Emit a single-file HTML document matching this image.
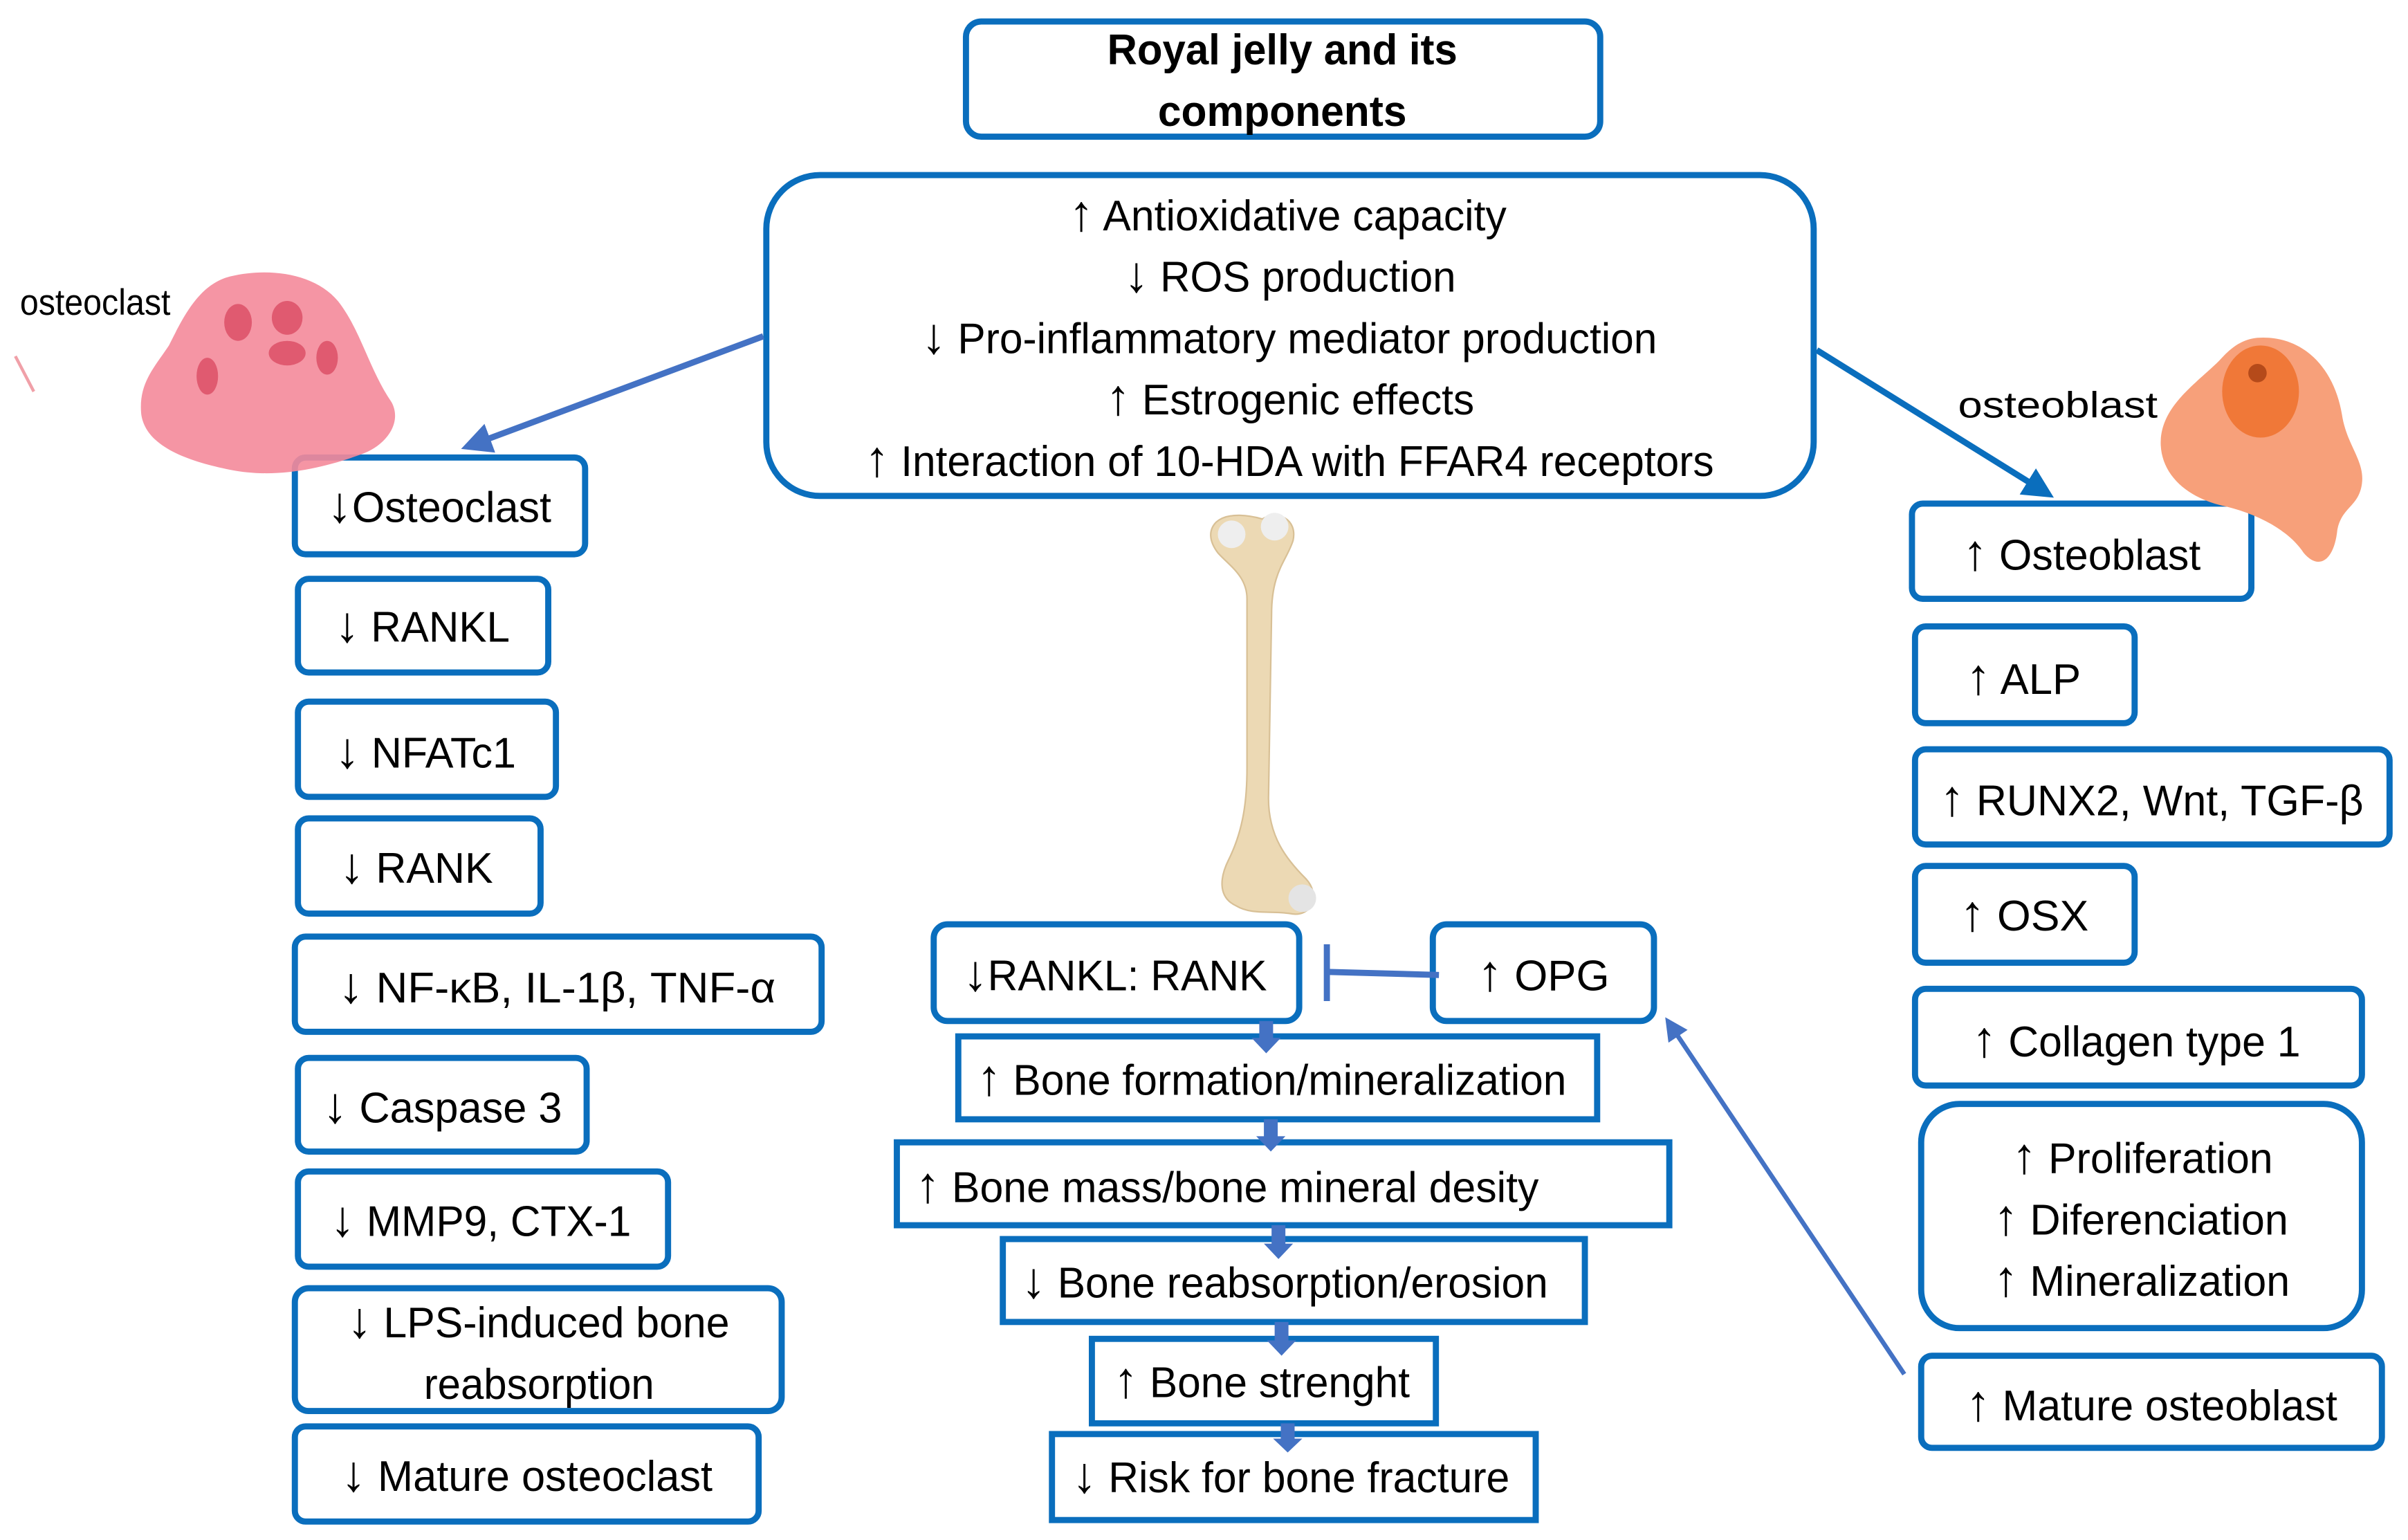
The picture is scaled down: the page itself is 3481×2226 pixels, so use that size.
<!DOCTYPE html>
<html><head><meta charset="utf-8"><style>
html,body{margin:0;padding:0;background:#fff;width:3481px;height:2226px;overflow:hidden}
svg{display:block}
text{font-family:"Liberation Sans",sans-serif;fill:#000}
.a{font-size:33px}
</style></head><body>
<svg width="3481" height="2226" viewBox="0 0 1568 1003" preserveAspectRatio="none" xmlns="http://www.w3.org/2000/svg">
<defs>
<marker id="ah" markerWidth="5" markerHeight="5" refX="4" refY="2.5" orient="auto" markerUnits="strokeWidth"><path d="M0,0 L5,2.5 L0,5 z" fill="#4472c4"/></marker>
<marker id="ah2" markerWidth="5" markerHeight="5" refX="4" refY="2.5" orient="auto" markerUnits="strokeWidth"><path d="M0,0 L5,2.5 L0,5 z" fill="#0a6ebd"/></marker>
</defs>
<g fill="none" stroke="#0a6ebd" stroke-width="4">
<rect x="629" y="14" width="413" height="75" rx="10"/>
<rect x="499" y="114" width="682" height="209" rx="35"/>
<rect x="192" y="298" width="189" height="63" rx="7"/>
<rect x="194" y="377" width="163" height="61" rx="7"/>
<rect x="194" y="457" width="168" height="62" rx="7"/>
<rect x="194" y="533" width="158" height="62" rx="7"/>
<rect x="192" y="610" width="343" height="62" rx="7"/>
<rect x="194" y="689" width="188" height="61" rx="7"/>
<rect x="194" y="763" width="241" height="62" rx="7"/>
<rect x="192" y="839" width="317" height="80" rx="9"/>
<rect x="192" y="929" width="302" height="62" rx="7"/>
<rect x="608" y="602" width="238" height="63" rx="9"/>
<rect x="933" y="602" width="144" height="63" rx="9"/>
<rect x="624" y="675" width="416" height="54"/>
<rect x="584" y="744" width="503" height="54"/>
<rect x="653" y="807" width="379" height="54"/>
<rect x="711" y="872" width="224" height="55"/>
<rect x="685" y="934" width="315" height="56"/>
<rect x="1245" y="328" width="221" height="62" rx="7"/>
<rect x="1247" y="408" width="143" height="63" rx="7"/>
<rect x="1247" y="488" width="309" height="62" rx="7"/>
<rect x="1247" y="564" width="143" height="63" rx="7"/>
<rect x="1247" y="644" width="291" height="63" rx="7"/>
<rect x="1251" y="719" width="287" height="146" rx="25"/>
<rect x="1251" y="883" width="300" height="60" rx="7"/>
</g>
<path d="M150,180 C175,174 205,178 220,196 C235,215 240,240 255,262 C262,275 252,290 235,296 C210,305 180,312 150,306 C120,300 95,290 92,270 C90,250 100,240 110,225 C120,205 130,185 150,180 z" fill="#f48a9a" opacity="0.9"/>
<g fill="#e05a70"><ellipse cx="155" cy="210" rx="9" ry="12"/><ellipse cx="187" cy="207" rx="10" ry="11"/><ellipse cx="135" cy="245" rx="7" ry="12"/><ellipse cx="187" cy="230" rx="12" ry="8"/><ellipse cx="213" cy="233" rx="7" ry="11"/></g>
<path d="M10,232 L22,255" stroke="#f0a0a8" stroke-width="2"/>
<path d="M1470,220 C1500,218 1520,240 1525,270 C1528,290 1540,300 1538,315 C1536,330 1525,330 1522,345 C1520,365 1510,372 1500,360 C1490,345 1470,335 1450,330 C1425,325 1408,310 1407,290 C1406,265 1430,250 1445,235 C1453,226 1460,221 1470,220 z" fill="#f7a07a"/>
<ellipse cx="1472" cy="255" rx="25" ry="30" fill="#f07838"/>
<ellipse cx="1470" cy="243" rx="6" ry="6" fill="#b54a1a"/>
<path d="M792,340 C800,333 815,336 822,338 C832,332 845,338 842,352 C838,365 828,372 828,400 L826,520 C826,545 838,560 850,572 C860,582 855,598 840,595 C828,593 815,596 805,590 C792,584 795,570 800,560 C810,540 812,520 812,500 L812,390 C812,375 800,368 793,360 C787,352 787,345 792,340 z" fill="#ecd9b4" stroke="#d8c096" stroke-width="1"/>
<circle cx="802" cy="348" r="9" fill="#eee"/><circle cx="830" cy="343" r="9" fill="#eee"/><circle cx="848" cy="585" r="9" fill="#e4e4e4"/>
<g stroke="#4472c4" stroke-width="4" fill="none">
<line x1="497" y1="219" x2="304" y2="291" marker-end="url(#ah)"/>
<line x1="1240" y1="895" x2="1086" y2="665" stroke-width="3" marker-end="url(#ah)"/>
<line x1="937" y1="635" x2="864" y2="633"/>
<line x1="864" y1="615" x2="864" y2="652"/>
</g>
<line x1="1183" y1="228" x2="1334" y2="322" stroke="#0a6ebd" stroke-width="4" marker-end="url(#ah2)"/>
<g fill="#4472c4">
<path d="M820,665 h9 v11 h5 l-9.5,10 l-9.5,-10 h5z"/>
<path d="M823,729 h9 v11 h5 l-9.5,10 l-9.5,-10 h5z"/>
<path d="M828,798 h9 v12 h5 l-9.5,10 l-9.5,-10 h5z"/>
<path d="M830,861 h9 v12 h5 l-9.5,10 l-9.5,-10 h5z"/>
<path d="M834,927 h9 v10 h5 l-9.5,9 l-9.5,-9 h5z"/>
</g>
<g font-size="28">
<text x="835" y="42" text-anchor="middle" font-weight="bold" textLength="228" lengthAdjust="spacingAndGlyphs">Royal jelly and its</text>
<text x="835" y="82" text-anchor="middle" font-weight="bold" textLength="162" lengthAdjust="spacingAndGlyphs">components</text>
<text x="696" y="150" textLength="285" lengthAdjust="spacingAndGlyphs"><tspan class="a">↑</tspan> Antioxidative capacity</text>
<text x="732" y="190" textLength="216" lengthAdjust="spacingAndGlyphs"><tspan class="a">↓</tspan> ROS production</text>
<text x="600" y="230" textLength="479" lengthAdjust="spacingAndGlyphs"><tspan class="a">↓</tspan> Pro-inflammatory mediator production</text>
<text x="720" y="270" textLength="240" lengthAdjust="spacingAndGlyphs"><tspan class="a">↑</tspan> Estrogenic effects</text>
<text x="563" y="310" textLength="553" lengthAdjust="spacingAndGlyphs"><tspan class="a">↑</tspan> Interaction of 10-HDA with FFAR4 receptors</text>
<text x="213" y="340" textLength="146" lengthAdjust="spacingAndGlyphs"><tspan class="a">↓</tspan>Osteoclast</text>
<text x="218" y="418" textLength="114" lengthAdjust="spacingAndGlyphs"><tspan class="a">↓</tspan> RANKL</text>
<text x="218" y="500" textLength="118" lengthAdjust="spacingAndGlyphs"><tspan class="a">↓</tspan> NFATc1</text>
<text x="221" y="575" textLength="100" lengthAdjust="spacingAndGlyphs"><tspan class="a">↓</tspan> RANK</text>
<text x="220" y="653" textLength="285" lengthAdjust="spacingAndGlyphs"><tspan class="a">↓</tspan> NF-κB, IL-1β, TNF-α</text>
<text x="210" y="731" textLength="156" lengthAdjust="spacingAndGlyphs"><tspan class="a">↓</tspan> Caspase 3</text>
<text x="215" y="805" textLength="196" lengthAdjust="spacingAndGlyphs"><tspan class="a">↓</tspan> MMP9, CTX-1</text>
<text x="226" y="871" textLength="249" lengthAdjust="spacingAndGlyphs"><tspan class="a">↓</tspan> LPS-induced bone</text>
<text x="276" y="911" textLength="150" lengthAdjust="spacingAndGlyphs">reabsorption</text>
<text x="222" y="971" textLength="242" lengthAdjust="spacingAndGlyphs"><tspan class="a">↓</tspan> Mature osteoclast</text>
<text x="627" y="645" textLength="198" lengthAdjust="spacingAndGlyphs"><tspan class="a">↓</tspan>RANKL: RANK</text>
<text x="962" y="645" textLength="86" lengthAdjust="spacingAndGlyphs"><tspan class="a">↑</tspan> OPG</text>
<text x="636" y="713" textLength="384" lengthAdjust="spacingAndGlyphs"><tspan class="a">↑</tspan> Bone formation/mineralization</text>
<text x="596" y="783" textLength="406" lengthAdjust="spacingAndGlyphs"><tspan class="a">↑</tspan> Bone mass/bone mineral desity</text>
<text x="665" y="845" textLength="343" lengthAdjust="spacingAndGlyphs"><tspan class="a">↓</tspan> Bone reabsorption/erosion</text>
<text x="725" y="910" textLength="193" lengthAdjust="spacingAndGlyphs"><tspan class="a">↑</tspan> Bone strenght</text>
<text x="698" y="972" textLength="285" lengthAdjust="spacingAndGlyphs"><tspan class="a">↓</tspan> Risk for bone fracture</text>
<text x="1278" y="371" textLength="155" lengthAdjust="spacingAndGlyphs"><tspan class="a">↑</tspan> Osteoblast</text>
<text x="1280" y="452" textLength="75" lengthAdjust="spacingAndGlyphs"><tspan class="a">↑</tspan> ALP</text>
<text x="1263" y="531" textLength="276" lengthAdjust="spacingAndGlyphs"><tspan class="a">↑</tspan> RUNX2, Wnt, TGF-β</text>
<text x="1276" y="606" textLength="84" lengthAdjust="spacingAndGlyphs"><tspan class="a">↑</tspan> OSX</text>
<text x="1284" y="688" textLength="214" lengthAdjust="spacingAndGlyphs"><tspan class="a">↑</tspan> Collagen type 1</text>
<text x="1310" y="764" textLength="170" lengthAdjust="spacingAndGlyphs"><tspan class="a">↑</tspan> Proliferation</text>
<text x="1298" y="804" textLength="192" lengthAdjust="spacingAndGlyphs"><tspan class="a">↑</tspan> Diferenciation</text>
<text x="1298" y="844" textLength="193" lengthAdjust="spacingAndGlyphs"><tspan class="a">↑</tspan> Mineralization</text>
<text x="1280" y="925" textLength="242" lengthAdjust="spacingAndGlyphs"><tspan class="a">↑</tspan> Mature osteoblast</text>
</g>
<g font-size="24" fill="#333">
<text x="13" y="205" textLength="98" lengthAdjust="spacingAndGlyphs">osteoclast</text>
<text x="1275" y="272" textLength="130" lengthAdjust="spacingAndGlyphs">osteoblast</text>
</g>
</svg>
</body></html>
